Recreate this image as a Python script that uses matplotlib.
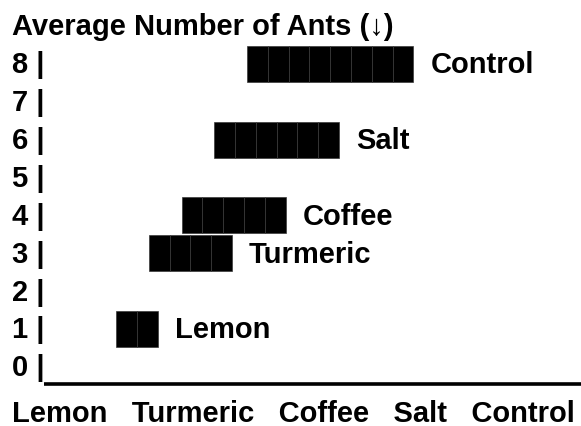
import matplotlib
matplotlib.use("Agg")
import matplotlib.pyplot as plt
from matplotlib.patches import Rectangle

# ---- data ----
title = "Average Number of Ants (\u2193)"
categories = ["Lemon", "Turmeric", "Coffee", "Salt", "Control"]
rows = [1, 3, 4, 6, 8]          # row on the text axis where each bar sits
blocks = [2, 4, 5, 6, 8]        # number of block characters in each bar
y_ticks = list(range(0, 9))

# ---- layout ----
W, H, DPI = 581, 427, 100
FONT = "Liberation Sans"
FS = 21
row_px = 37.9
y0_px = 368            # pixel centre of row 0
block_w = 20.8
bar_x0 = 116
bar_step = 32.75
bar_h = 0.95
left = 11.5

fig = plt.figure(figsize=(W / DPI, H / DPI), dpi=DPI)
ax = fig.add_axes([0, 0, 1, 1])
ax.set_xlim(0, W)
ax.set_ylim((y0_px - H) / row_px, y0_px / row_px)
ax.axis("off")

kw = dict(fontfamily=FONT, fontweight="bold", fontsize=FS, color="black")
base_off = 0.22

# title
ax.text(left, 9 - base_off, title, va="baseline", ha="left", **kw)

# y tick labels
for v in y_ticks:
    ax.text(left, v - base_off, f"{v} |", va="baseline", ha="left", **kw)

# baseline (underscores)
ax.plot([44, W], [0 - 0.45, 0 - 0.45], color="black", lw=2.6, solid_capstyle="butt")

# bars made of blocks
for i, (cat, r, n) in enumerate(zip(categories, rows, blocks)):
    x = bar_x0 + i * bar_step
    for k in range(n):
        ax.add_patch(Rectangle((x + k * block_w, r - bar_h / 2), block_w, bar_h,
                               facecolor="black", edgecolor="#3a3a3a", lw=0.5))
    ax.text(x + n * block_w + 17, r - base_off, cat, va="baseline", ha="left", **kw)

# x labels
ax.text(left, -1 - base_off - 0.2, "   ".join(categories), va="baseline", ha="left", **kw)

fig.savefig("out.png", dpi=DPI, facecolor="white")
